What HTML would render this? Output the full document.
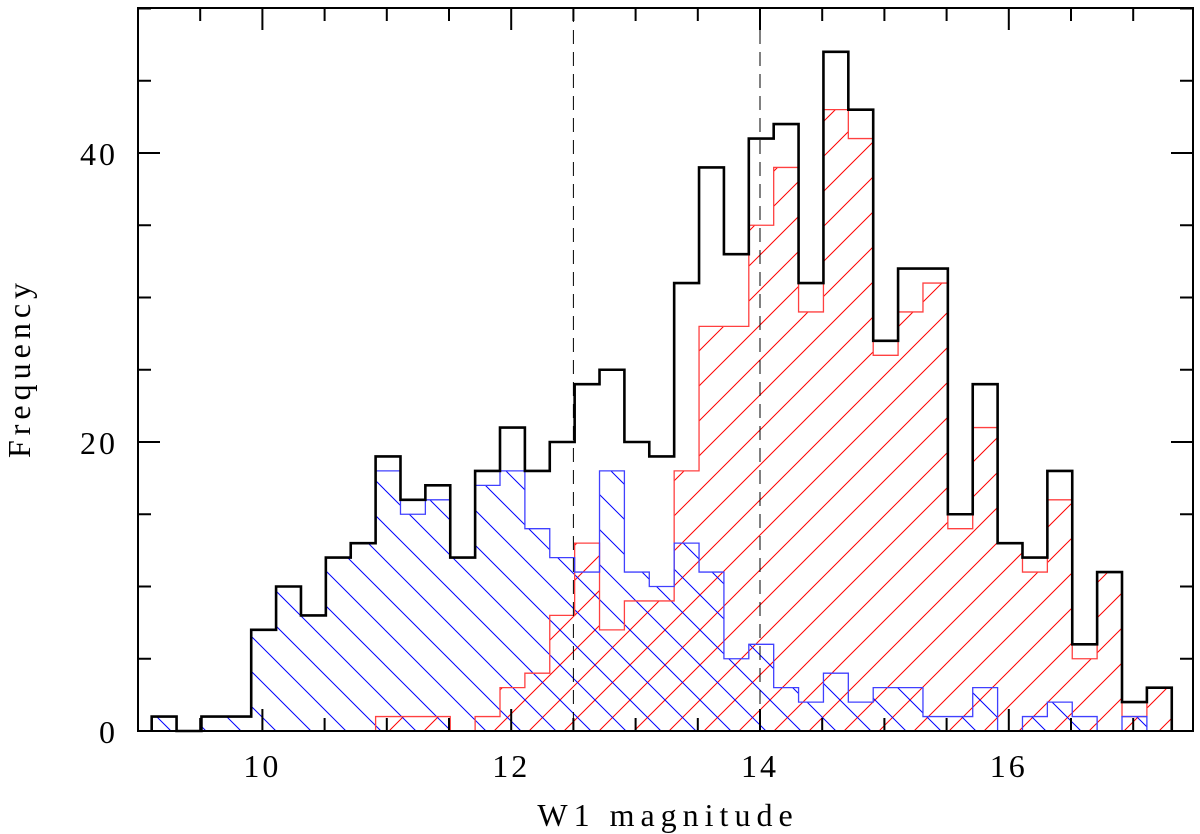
<!DOCTYPE html>
<html><head><meta charset="utf-8"><style>
html,body{margin:0;padding:0;background:#fff;}
svg{display:block;}
text{font-family:"Liberation Serif","DejaVu Serif",serif;fill:#000;}
</style></head><body>
<svg id="chart" width="1200" height="834">
<defs>
<pattern id="hatchRed" patternUnits="userSpaceOnUse" width="35" height="35">
<line x1="0" y1="35" x2="35" y2="0" stroke="#ff0000" stroke-width="1"/>
<line x1="-5" y1="5" x2="5" y2="-5" stroke="#ff0000" stroke-width="1"/>
<line x1="30" y1="40" x2="40" y2="30" stroke="#ff0000" stroke-width="1"/>
</pattern>
<pattern id="hatchBlue" patternUnits="userSpaceOnUse" width="35" height="35">
<line x1="0" y1="0" x2="35" y2="35" stroke="#0000ff" stroke-width="1"/>
<line x1="-5" y1="30" x2="5" y2="40" stroke="#0000ff" stroke-width="1"/>
<line x1="30" y1="-5" x2="40" y2="5" stroke="#0000ff" stroke-width="1"/>
</pattern>
</defs>
<g id="plot"></g>
</svg>
<script>
const binStart = 9.11;
const binWidth = 0.2;
const totalCounts = [1,0,1,1,7,10,8,12,13,19,16,17,12,18,21,18,20,24,25,20,19,31,39,33,41,42,31,47,43,27,32,32,15,24,13,12,18,6,11,2,3];
const blueCounts = [1,0,1,1,7,10,8,12,13,18,15,16,12,17,18,14,12,11,18,11,10,13,11,5,6,3,2,4,2,3,3,1,1,3,0,1,2,1,0,1,0];
const redCounts = [0,0,0,0,0,0,0,0,0,1,1,1,0,1,3,4,8,13,7,9,9,18,28,28,35,39,29,43,41,26,29,31,14,21,13,11,16,5,11,1,3];
const dashedLines = [12.5, 14.0];
const xTicksMajor = [10,12,14,16];
const yTicksMajor = [0,20,40];

const L=138, R=1193, T=8, B=731;
const xs = v => L + (v-9)*124.4;
const ys = v => B - v*14.45;
const NS="http://www.w3.org/2000/svg";
const g=document.getElementById('plot');
function mk(tag, attrs){const e=document.createElementNS(NS,tag);for(const k in attrs)e.setAttribute(k,attrs[k]);g.appendChild(e);return e;}
function stepPath(counts, close){
  let d='M'+xs(binStart)+','+ys(0);
  counts.forEach((c,i)=>{const x0=xs(binStart+i*binWidth),x1=xs(binStart+(i+1)*binWidth);d+=' L'+x0+','+ys(c)+' L'+x1+','+ys(c);});
  d+=' L'+xs(binStart+counts.length*binWidth)+','+ys(0);
  if(close)d+=' Z';
  return d;
}
let e;
e=mk('path',{d:stepPath(redCounts,true),fill:'url(#hatchRed)',stroke:'none'});


e=mk('path',{d:stepPath(blueCounts,true),fill:'url(#hatchBlue)',stroke:'none'});


e=mk('path',{d:stepPath(redCounts,false),fill:'none',stroke:'#ff4040','stroke-width':1.3});


e=mk('path',{d:stepPath(blueCounts,false),fill:'none',stroke:'#4040ff','stroke-width':1.3});


e=mk('path',{d:stepPath(totalCounts,false),fill:'none',stroke:'#000','stroke-width':2.6});


dashedLines.forEach(v=>{
  e=mk('line',{x1:xs(v),x2:xs(v),y1:T,y2:B,stroke:'#000','stroke-width':1,'stroke-dasharray':'14,8'});
  
  
});
e=mk('rect',{x:L,y:T,width:R-L,height:B-T,fill:'none',stroke:'#000','stroke-width':2});


for(let v=9.5; v<17.5; v+=0.5){
  const major = Math.abs(v-Math.round(v))<1e-6 && Math.round(v)%2===0;
  const len = major?22:13;
  e=mk('line',{x1:xs(v),x2:xs(v),y1:B,y2:B-len,stroke:'#000','stroke-width':2});
  
  
  e=mk('line',{x1:xs(v),x2:xs(v),y1:T,y2:T+len,stroke:'#000','stroke-width':2});
  
  
}
xTicksMajor.forEach(v=>{
  e=mk('text',{x:xs(v),y:777,'text-anchor':'middle','font-size':32,'letter-spacing':'3'});
  e.textContent=v;
  
  
});
for(let v=0; v<=50; v+=5){
  const major = v%20===0;
  const len = major?22:13;
  e=mk('line',{x1:L,x2:L+len,y1:ys(v),y2:ys(v),stroke:'#000','stroke-width':2});
  
  
  e=mk('line',{x1:R,x2:R-len,y1:ys(v),y2:ys(v),stroke:'#000','stroke-width':2});
  
  
}
yTicksMajor.forEach(v=>{
  e=mk('text',{x:118,y:ys(v)+12,'text-anchor':'end','font-size':32,'letter-spacing':'3'});
  e.textContent=v;
  
  
});
e=mk('text',{x:668,y:826,'text-anchor':'middle','font-size':32,'letter-spacing':'6'});
e.textContent='W1 magnitude';


e=mk('text',{x:30,y:368,'text-anchor':'middle','font-size':32,'letter-spacing':'5',transform:'rotate(-90 30 368)'});
e.textContent='Frequency';


</script>
</body></html>
